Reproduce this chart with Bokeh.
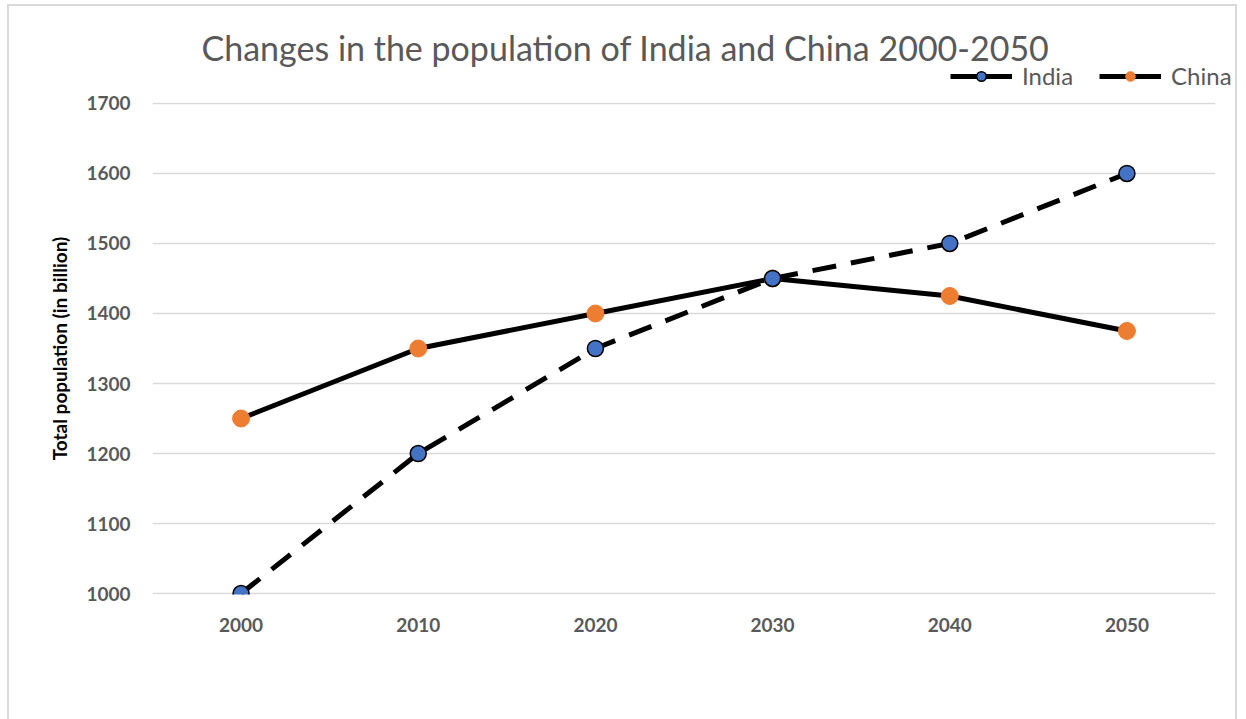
from bokeh.plotting import figure
from bokeh.layouts import column
from bokeh.models import Legend, LegendItem, Label, FactorRange, Range1d, FixedTicker
from bokeh.embed import file_html
from bokeh.resources import INLINE

years = ["2000", "2010", "2020", "2030", "2040", "2050"]
india = [1000, 1200, 1350, 1450, 1500, 1600]
china = [1250, 1350, 1400, 1450, 1425, 1375]
yticks = [1000, 1100, 1200, 1300, 1400, 1500, 1600, 1700]
title_text = "Changes in the population of India and China 2000-2050"

FONT = "Lato"
GRAY = "#595959"
W = 1244
HT = 91

INDIA_LINE = dict(line_color="black", line_width=5, line_dash="24 15")
INDIA_MARK = dict(size=16, fill_color="#4472C4", line_color="black", line_width=1.5)
CHINA_LINE = dict(line_color="black", line_width=5)
CHINA_MARK = dict(size=17, fill_color="#ED7D31", line_color="#ED7D31")
LEGEND_LINE = dict(line_color="black", line_width=5, line_dash="500 1")

# ---- header figure: title and legend (series drawn here fall outside its pixel ranges) ----
top = figure(width=W, height=HT, x_range=Range1d(0, W), y_range=Range1d(HT, 0),
             x_axis_type=None, y_axis_type=None, output_backend="svg", toolbar_location=None,
             min_border=0)
try:
    top.frame_align = False
except Exception:
    pass
top.grid.visible = False
top.outline_line_color = None
top.background_fill_alpha = 0
top.border_fill_alpha = 0
top.add_layout(Label(x=625, y=47, text=title_text, text_font=FONT, text_font_size="34px",
                     text_color=GRAY, text_align="center", text_baseline="middle"))

idx = list(range(len(years)))
li_l = top.line(idx, india, **LEGEND_LINE)
li_c = top.scatter(idx, india, **INDIA_MARK)
lc_l = top.line(idx, china, **LEGEND_LINE)
lc_c = top.scatter(idx, china, **CHINA_MARK)
legend = Legend(items=[LegendItem(label="India", renderers=[li_l, li_c]),
                       LegendItem(label="China", renderers=[lc_l, lc_c])],
                orientation="horizontal", location=(950, 1),
                label_text_font=FONT, label_text_font_size="24px", label_text_color=GRAY,
                glyph_width=62, glyph_height=24, spacing=26, label_standoff=10,
                border_line_color=None, background_fill_alpha=0, padding=0, margin=0)
top.add_layout(legend)

# ---- main chart ----
p = figure(width=W, height=719 - HT, x_range=FactorRange(*years, range_padding=0),
           y_range=Range1d(998.6, 1701.4), output_backend="svg", toolbar_location=None,
           min_border_left=152, min_border_right=29, min_border_top=102 - HT, min_border_bottom=125)
try:
    p.frame_align = False
except Exception:
    pass
p.outline_line_color = None
p.background_fill_color = "white"
p.border_fill_alpha = 0

p.xgrid.grid_line_color = None
p.ygrid.grid_line_color = "#d9d9d9"
p.ygrid.grid_line_width = 1.5
p.yaxis.ticker = FixedTicker(ticks=yticks)

for ax in (p.xaxis, p.yaxis):
    ax.axis_line_color = None
    ax.major_tick_line_color = None
    ax.minor_tick_line_color = None
    ax.major_tick_out = 0
    ax.major_tick_in = 0
    ax.major_label_text_font = FONT
    ax.major_label_text_font_style = "bold"
    ax.major_label_text_font_size = "19px"
    ax.major_label_text_color = GRAY
p.yaxis.major_label_standoff = 22
p.xaxis.major_label_standoff = 23

p.yaxis.axis_label = "Total population (in billion)"
p.yaxis.axis_label_text_font = FONT
p.yaxis.axis_label_text_font_style = "bold"
p.yaxis.axis_label_text_font_size = "19px"
p.yaxis.axis_label_text_color = "black"
p.yaxis.axis_label_standoff = 12

p.line(years, china, **CHINA_LINE)
p.scatter(years, china, **CHINA_MARK)
p.line(years, india, **INDIA_LINE)
p.scatter(years, india, **INDIA_MARK)

G = "linear-gradient(#d9d9d9,#d9d9d9)"
layout = column(top, p, spacing=0)
layout.styles = {"background": f"{G} 7px 4px / 2px 720px no-repeat, {G} 7px 4px / 1230px 2px no-repeat, "
                               f"{G} 1235px 4px / 2px 720px no-repeat, white"}

open("out.html", "w").write(file_html(layout, INLINE))
